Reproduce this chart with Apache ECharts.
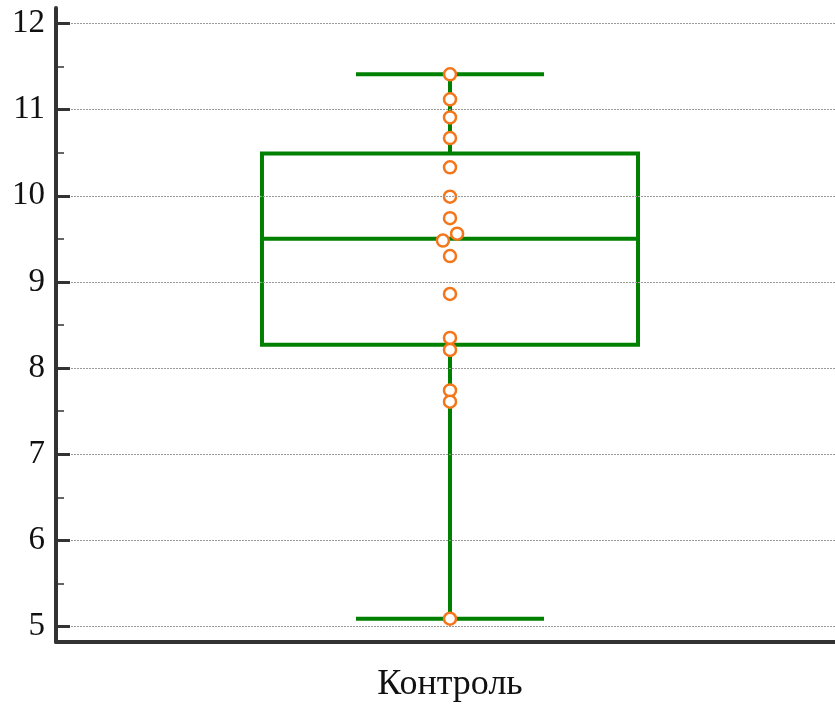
<!DOCTYPE html>
<html>
<head>
<meta charset="utf-8">
<script src="https://cdn.jsdelivr.net/npm/echarts@6/dist/echarts.min.js"></script>
<style>
  html, body { margin: 0; padding: 0; background: #ffffff; }
  #chart { width: 835px; height: 706px; }
</style>
</head>
<body>
<div id="chart"></div>
<script>
// Group names on the x axis
const categories = ['Контроль'];
// Five-number summary of the group: min, Q1, median, Q3, max
const boxStats = [5.09, 8.27, 9.50, 10.49, 11.41];
// Individual observations and their horizontal jitter (in band units)
const observations = [11.41, 11.12, 10.91, 10.67, 10.33, 9.99, 9.74, 9.56, 9.48, 9.30, 8.86, 8.35, 8.21, 7.74, 7.61, 5.09];
const jitter       = [0, 0, 0, 0, 0, 0, 0, 0.018, -0.018, 0, 0, 0, 0, 0, 0, 0];
// Y axis ticks
const yTicks = [5, 6, 7, 8, 9, 10, 11, 12];
const yMinorTicks = [5.5, 6.5, 7.5, 8.5, 9.5, 10.5, 11.5];

const Y_MIN = 4.82, Y_MAX = 12.18;
const AXIS_COLOR = '#333333';
const BOX_COLOR = '#008000';
const POINT_COLOR = '#f5761a';
const SERIF = '"Liberation Serif", "DejaVu Serif", serif';

const chart = echarts.init(document.getElementById('chart'), null, { renderer: 'canvas' });

function renderBox(params, api) {
  const x = api.value(0);
  const pMin = api.coord([x, api.value(1)]);
  const pQ1 = api.coord([x, api.value(2)]);
  const pMed = api.coord([x, api.value(3)]);
  const pQ3 = api.coord([x, api.value(4)]);
  const pMax = api.coord([x, api.value(5)]);
  const band = api.size([1, 0])[0];
  const cx = pMed[0];
  const boxHalf = band * 0.2386;
  const capHalf = band * 0.1193;
  const stroke = { stroke: BOX_COLOR, lineWidth: 4, fill: null };
  return {
    type: 'group',
    children: [
      { type: 'line', shape: { x1: cx, y1: pMax[1], x2: cx, y2: pQ3[1] }, style: stroke },
      { type: 'line', shape: { x1: cx, y1: pQ1[1], x2: cx, y2: pMin[1] }, style: stroke },
      { type: 'line', shape: { x1: cx - capHalf, y1: pMax[1], x2: cx + capHalf, y2: pMax[1] }, style: stroke },
      { type: 'line', shape: { x1: cx - capHalf, y1: pMin[1], x2: cx + capHalf, y2: pMin[1] }, style: stroke },
      { type: 'rect', shape: { x: cx - boxHalf, y: pQ3[1], width: boxHalf * 2, height: pQ1[1] - pQ3[1] }, style: stroke },
      { type: 'line', shape: { x1: cx - boxHalf, y1: pMed[1], x2: cx + boxHalf, y2: pMed[1] }, style: stroke }
    ]
  };
}

// Extra left-side y axes that only carry tick marks
function tickAxis(values, length, width) {
  return {
    type: 'value',
    min: Y_MIN,
    max: Y_MAX,
    position: 'left',
    axisLine: { show: false, onZero: false },
    axisTick: { show: true, inside: true, length: length, customValues: values, lineStyle: { color: AXIS_COLOR, width: width } },
    axisLabel: { show: false },
    splitLine: { show: false },
    z: 5
  };
}

const option = {
  animation: false,
  backgroundColor: '#ffffff',
  grid: { left: 56, width: 788, top: 8, bottom: 64, containLabel: false, outerBoundsMode: 'none' },
  xAxis: [
    {
      type: 'category',
      data: categories,
      boundaryGap: true,
      axisLine: { show: true, onZero: false, lineStyle: { color: AXIS_COLOR, width: 4 } },
      axisTick: { show: false },
      axisLabel: { fontFamily: SERIF, fontSize: 36, color: '#111111', margin: 25 },
      splitLine: { show: false }
    },
    {
      type: 'value',
      min: -1,
      max: 1,
      show: false,
      axisLine: { onZero: false },
      splitLine: { show: false }
    }
  ],
  yAxis: [
    {
      type: 'value',
      min: Y_MIN,
      max: Y_MAX,
      position: 'left',
      axisLine: { show: true, onZero: false, lineStyle: { color: AXIS_COLOR, width: 4 } },
      axisTick: { show: false, customValues: yTicks },
      axisLabel: { customValues: yTicks, fontFamily: SERIF, fontSize: 33, color: '#111111', margin: 11 },
      splitLine: { show: true, lineStyle: { color: '#9a9a9a', width: 1, type: [2, 1] } },
      z: 5
    },
    tickAxis(yTicks, 14, 3),
    tickAxis(yMinorTicks, 8, 1.5)
  ],
  series: [
    {
      type: 'custom',
      xAxisIndex: 0,
      yAxisIndex: 0,
      renderItem: renderBox,
      encode: { x: 0, y: [1, 2, 3, 4, 5] },
      data: [[0].concat(boxStats)],
      z: 2
    },
    {
      type: 'scatter',
      xAxisIndex: 1,
      yAxisIndex: 0,
      symbol: 'circle',
      symbolSize: 12,
      itemStyle: { color: '#ffffff', borderColor: POINT_COLOR, borderWidth: 2.5, opacity: 1 },
      data: observations.map((v, i) => [jitter[i], v]),
      z: 3
    }
  ]
};

chart.setOption(option);
</script>
</body>
</html>
